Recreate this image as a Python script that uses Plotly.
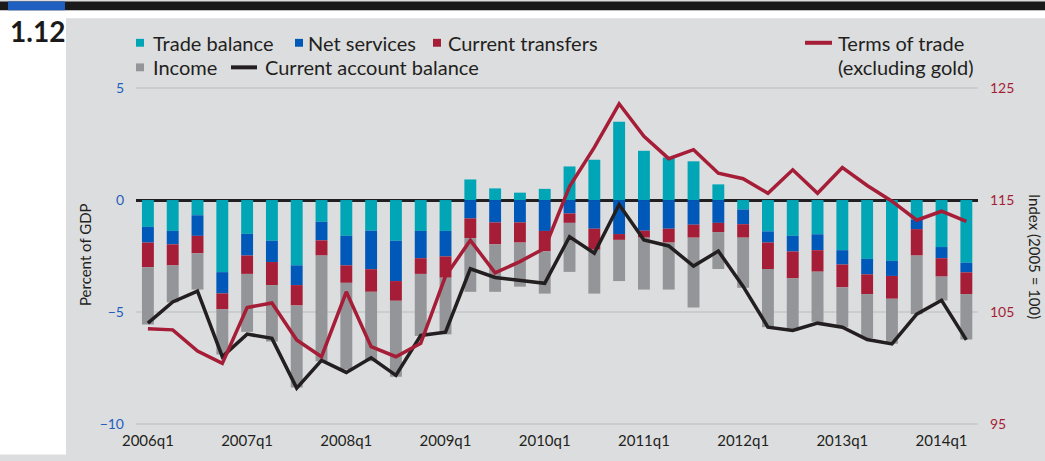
import plotly.graph_objects as go

# ---------------- data ----------------
quarters = [
    "2006q1", "2006q2", "2006q3", "2006q4",
    "2007q1", "2007q2", "2007q3", "2007q4",
    "2008q1", "2008q2", "2008q3", "2008q4",
    "2009q1", "2009q2", "2009q3", "2009q4",
    "2010q1", "2010q2", "2010q3", "2010q4",
    "2011q1", "2011q2", "2011q3", "2011q4",
    "2012q1", "2012q2", "2012q3", "2012q4",
    "2013q1", "2013q2", "2013q3", "2013q4",
    "2014q1", "2014q2",
]
tick_labels = ["2006q1", "2007q1", "2008q1", "2009q1", "2010q1",
               "2011q1", "2012q1", "2013q1", "2014q1"]

trade_balance = [-1.2, -1.38, -0.68, -3.22, -1.51, -1.82, -2.92, -0.97, -1.6, -1.37,
                 -1.82, -1.38, -1.38, 0.92, 0.52, 0.33, 0.5, 1.5, 1.8, 3.5,
                 2.2, 1.9, 1.73, 0.7, -0.42, -1.4, -1.6, -1.53, -2.24, -2.63,
                 -2.72, -0.88, -2.1, -2.8]
net_services = [-0.7, -0.6, -0.92, -0.95, -0.97, -0.95, -0.88, -0.83, -1.32, -1.72,
                -1.8, -1.22, -1.14, -0.82, -1.0, -1.0, -1.38, -0.6, -1.28, -1.52,
                -1.37, -1.28, -1.1, -1.02, -0.66, -0.5, -0.7, -0.71, -0.64, -0.69,
                -0.67, -0.42, -0.5, -0.43]
current_transfers = [-1.1, -0.94, -0.78, -0.71, -0.82, -1.03, -0.91, -0.68, -0.78, -1.01,
                     -0.88, -0.7, -0.95, -0.88, -0.98, -0.9, -0.91, -0.42, -0.94, -0.26,
                     -0.31, -0.62, -0.58, -0.41, -0.6, -1.18, -1.2, -0.96, -1.02, -0.88,
                     -1.02, -1.18, -0.82, -0.97]
income = [-2.56, -1.65, -1.62, -2.02, -2.59, -2.52, -3.66, -4.72, -3.87, -3.1,
          -3.4, -2.77, -2.53, -2.4, -2.12, -1.97, -1.89, -2.19, -1.96, -1.84,
          -2.32, -2.1, -3.12, -1.65, -2.24, -2.6, -2.33, -2.24, -1.78, -1.97,
          -2.01, -2.62, -1.07, -2.03]
current_account = [-5.5, -4.55, -4.07, -7.0, -5.99, -6.18, -8.4, -7.16, -7.7, -7.05,
                   -7.83, -6.05, -5.9, -3.07, -3.46, -3.6, -3.72, -1.64, -2.38, -0.2,
                   -1.78, -2.05, -2.95, -2.28, -3.86, -5.68, -5.83, -5.5, -5.68, -6.23,
                   -6.43, -5.1, -4.48, -6.25]
terms_of_trade = [103.5, 103.4, 101.5, 100.4, 105.4, 105.8, 102.5, 101.0, 106.8, 101.9,
                  101.0, 102.2, 108.2, 111.4, 108.5, 109.5, 110.7, 116.2, 119.7, 123.6,
                  120.7, 118.7, 119.5, 117.4, 116.9, 115.6, 117.7, 115.6, 117.9, 116.3,
                  114.9, 113.2, 114.0, 113.1]

# ---------------- styling ----------------
W, H = 1045, 461
ML, MR, MT, MB = 136, 67, 87, 30
FONT = "Lato"
TXT = "#231f20"
TEAL = "#00a6b6"
BLUE = "#0058b8"
RED = "#a51d36"
GREY = "#939598"
BG = "#dcdddf"
LBLUE = "#1f5fbf"


def xp(px):
    return (px - ML) / (W - ML - MR)


def yp(py):
    return (H - MB - py) / (H - MT - MB)


fig = go.Figure()
for name, vals, col in [("Trade balance", trade_balance, TEAL),
                        ("Net services", net_services, BLUE),
                        ("Current transfers", current_transfers, RED),
                        ("Income", income, GREY)]:
    fig.add_trace(go.Bar(x=quarters, y=vals, name=name, marker_color=col,
                         marker_line_width=0))

fig.add_trace(go.Scatter(x=quarters, y=current_account, name="Current account balance",
                         mode="lines", line=dict(color=TXT, width=3.5)))
fig.add_trace(go.Scatter(x=quarters, y=terms_of_trade, name="Terms of trade (excluding gold)",
                         mode="lines", line=dict(color=RED, width=3.5), yaxis="y2"))

shapes = []
annotations = []


def rect(x0, y0, x1, y1, col):
    shapes.append(dict(type="rect", xref="paper", yref="paper",
                       x0=xp(x0), x1=xp(x1), y0=yp(y0), y1=yp(y1),
                       fillcolor=col, line=dict(width=0), layer="above"))


def hline(x0, x1, y, col, w):
    shapes.append(dict(type="line", xref="paper", yref="paper",
                       x0=xp(x0), x1=xp(x1), y0=yp(y), y1=yp(y),
                       line=dict(color=col, width=w), layer="above"))


def text(x, y, s, size=20, col=TXT, anchor="left", angle=0, bold=False):
    annotations.append(dict(xref="paper", yref="paper", x=xp(x), y=yp(y),
                            text=("<b>%s</b>" % s) if bold else s,
                            showarrow=False, xanchor=anchor, yanchor="middle",
                            textangle=angle,
                            font=dict(family=FONT, size=size, color=col)))


# frame pieces
rect(0, 9, 66, H, "white")
rect(0, 9, W, 17, "white")
rect(0, 0, W, 9, "#1a1a1a")
rect(8, 0, 65, 9, "#1f5fbf")
text(37, 30, "1.12", size=28, anchor="center", bold=True, col="#1a1a1a")

# legend
rect(136, 38, 144, 46, TEAL)
text(151, 42, "Trade balance")
rect(295, 38, 303, 46, BLUE)
text(306, 42, "Net services")
rect(433, 38, 441, 46, RED)
text(446, 42, "Current transfers")
rect(136, 63, 144, 71, GREY)
text(151, 67, "Income")
hline(231, 257, 67, TXT, 4)
text(263, 67, "Current account balance")
hline(805, 832, 42, RED, 4)
text(836, 42, "Terms of trade")
text(836, 67, "(excluding gold)")

# axis titles
text(85, 258, "Percent of GDP", size=15, anchor="center", angle=-90)
text(1035, 259, "Index (2005 = 100)", size=15, anchor="center", angle=90)

fig.update_layout(
    width=W, height=H, autosize=False,
    margin=dict(l=ML, r=MR, t=MT, b=MB, pad=0),
    paper_bgcolor=BG, plot_bgcolor=BG,
    barmode="relative", bargap=0.52,
    showlegend=False,
    font=dict(family=FONT, color=TXT),
    shapes=shapes, annotations=annotations,
    xaxis=dict(type="category", range=[-0.48, 33.47], tickvals=tick_labels,
               ticktext=tick_labels, showgrid=False, zeroline=False, showline=False,
               ticks="", tickfont=dict(family=FONT, size=15, color=TXT),
               ticklabelstandoff=5),
    yaxis=dict(range=[-10.05, 5.05], tickvals=[-10, -5, 0, 5],
               showgrid=True, gridcolor="#cbccce", gridwidth=2,
               zeroline=True, zerolinecolor=TXT, zerolinewidth=2.5,
               showline=False, ticks="",
               tickfont=dict(family=FONT, size=14, color=LBLUE),
               ticklabelstandoff=11),
    yaxis2=dict(range=[94.9, 125.1], tickvals=[95, 105, 115, 125], overlaying="y",
                side="right", showgrid=False, zeroline=False, showline=False,
                ticks="", tickfont=dict(family=FONT, size=14, color=RED),
                ticklabelstandoff=11),
)

fig.write_html(
    "out.html",
    config={"displayModeBar": False},
    post_script="document.body.style.margin='0';document.body.style.overflow='hidden';",
)
